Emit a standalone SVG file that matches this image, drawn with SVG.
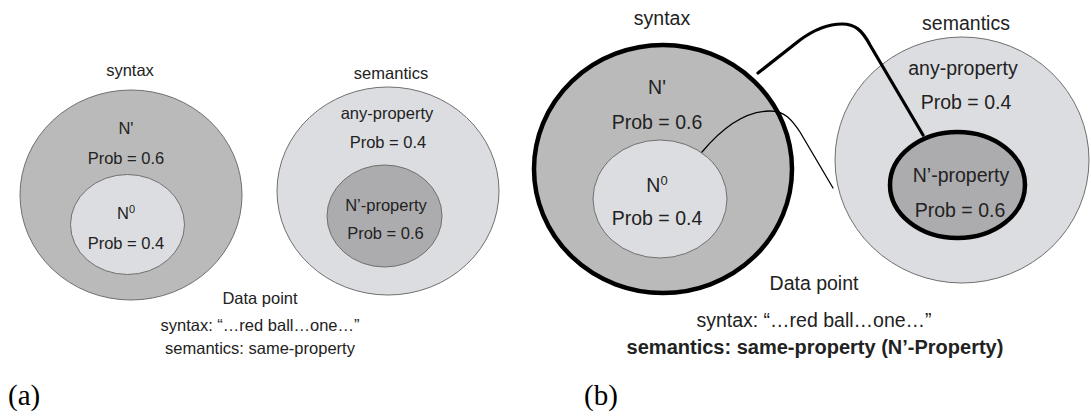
<svg xmlns="http://www.w3.org/2000/svg" width="1091" height="420" viewBox="0 0 1091 420">
<style>
.t{font-family:"Liberation Sans",Arial,sans-serif;fill:#222;text-anchor:middle}
.a{font-size:16.5px}
.b{font-size:19.5px}
.bb{font-size:20px;font-weight:bold}
.lab{font-family:"Liberation Serif","Times New Roman",serif;font-size:29px;fill:#000}
.dark{fill:#bababa}
.light{fill:#dcdde0}
.mid{fill:#acacae}
.thin{stroke:#6f6f6f;stroke-width:1}
.thick{stroke:#000;stroke-width:4.5}
.conn{fill:none;stroke:#000;stroke-linecap:round;stroke-linejoin:round}
</style>
<rect width="1091" height="420" fill="#fff"/>

<!-- Panel (a) -->
<g id="a-syntax">
<text class="t a" x="130" y="76">syntax</text>
<ellipse class="dark thin" cx="131" cy="195" rx="111" ry="105"/>
<text class="t a" x="126" y="134">N'</text>
<text class="t a" x="126" y="164">Prob = 0.6</text>
</g>
<g id="a-n0">
<ellipse class="light thin" cx="127.5" cy="224.5" rx="57" ry="50"/>
<text class="t a" x="126" y="219">N<tspan font-size="11" dy="-6">0</tspan></text>
<text class="t a" x="126" y="249">Prob = 0.4</text>
</g>
<g id="a-semantics">
<text class="t a" x="391" y="79">semantics</text>
<ellipse class="light thin" cx="388" cy="191" rx="111" ry="104"/>
<text class="t a" x="387" y="119">any-property</text>
<text class="t a" x="388" y="148">Prob = 0.4</text>
</g>
<g id="a-nprop">
<ellipse class="mid thin" cx="384.5" cy="216" rx="57.5" ry="51"/>
<text class="t a" x="386" y="211">N’-property</text>
<text class="t a" x="385.5" y="239">Prob = 0.6</text>
</g>
<g id="a-data">
<text class="t a" x="260" y="304">Data point</text>
<text class="t a" x="260" y="331">syntax: “…red ball…one…”</text>
<text class="t a" x="260" y="354">semantics: same-property</text>
</g>
<text class="lab" x="8" y="405">(a)</text>

<!-- Panel (b) -->
<g id="b-syntax">
<text class="t b" x="662" y="25">syntax</text>
<ellipse class="dark thick" cx="663" cy="169" rx="129" ry="124"/>
<text class="t b" x="657" y="94">N'</text>
<text class="t b" x="657" y="129">Prob = 0.6</text>
</g>
<g id="b-n0">
<ellipse class="light thin" cx="660" cy="199" rx="67" ry="59"/>
<text class="t b" x="657" y="192">N<tspan font-size="13" dy="-7">0</tspan></text>
<text class="t b" x="657" y="225">Prob = 0.4</text>
</g>
<g id="b-semantics">
<text class="t b" x="966" y="30">semantics</text>
<ellipse class="light thin" cx="962" cy="160" rx="127" ry="123"/>
<text class="t b" x="963" y="75">any-property</text>
<text class="t b" x="966" y="109">Prob = 0.4</text>
</g>
<g id="b-nprop">
<ellipse class="mid thick" cx="957.5" cy="185" rx="67.5" ry="53"/>
<text class="t b" x="961" y="182">N’-property</text>
<text class="t b" x="960" y="217">Prob = 0.6</text>
</g>
<g id="connectors">
<path class="conn" stroke-width="3.2" d="M758 73 L800 40 C815 29 828 24 842 24 C855 24 862 30 870 45 L923 135"/>
<path class="conn" stroke-width="1.3" d="M702 152 C722 128 745 111 770 111 C785 111 792 120 800 132 L833 188"/>
</g>
<g id="b-data">
<text class="t b" x="814" y="290">Data point</text>
<text class="t b" x="814" y="327">syntax: “…red ball…one…”</text>
<text class="t bb" x="815" y="354">semantics: same-property (N’-Property)</text>
</g>
<text class="lab" x="584" y="405">(b)</text>
</svg>
